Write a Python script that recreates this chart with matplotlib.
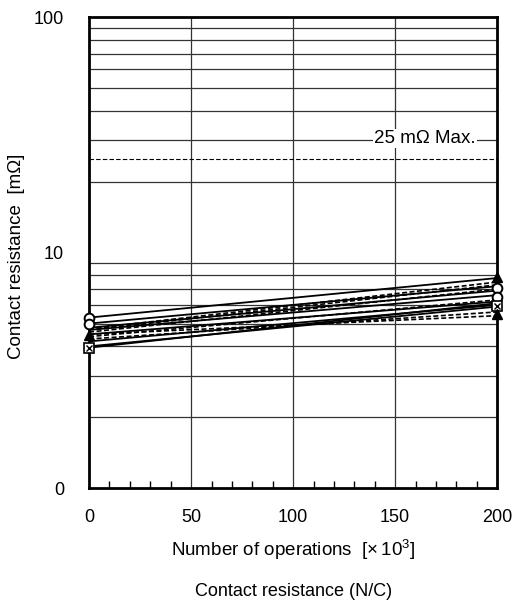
import numpy as np
import matplotlib
matplotlib.use('Agg')
import matplotlib.pyplot as plt
from matplotlib.ticker import FixedLocator, NullFormatter

plt.rcParams['font.family'] = ['Liberation Sans', 'DejaVu Sans']
plt.rcParams['mathtext.fontset'] = 'custom'
plt.rcParams['mathtext.rm'] = 'Liberation Sans'

# data: contact resistance at 0 and 200 x10^3 operations
ops = [0, 200]
solid_start = [5.3, 5.0, 4.8, 4.7, 4.5, 4.2, 4.0, 3.95]
solid_end = [7.8, 7.2, 6.9, 6.6, 6.2, 6.0, 5.9, 6.1]
dash_start = [4.75, 4.7, 4.6, 4.4, 4.3, 4.5]
dash_end = [7.5, 7.3, 7.0, 6.3, 5.6, 5.4]
limit = 25

# markers on the end points (start, end)
start_marks = [(5.3, 'o'), (5.0, 'o'), (4.45, '^'), (3.95, 'sx')]
end_marks = [(7.85, '^'), (7.1, 'o'), (6.45, 'o'), (5.95, 'sx'), (5.5, '^')]

fig = plt.figure(figsize=(5.12, 6.08), dpi=100)
ax = fig.add_axes([0.174, 0.197, 0.797, 0.775])
ax.set_yscale('log')
ax.set_xlim(0, 200)
ax.set_ylim(1, 100)

for a, b in zip(solid_start, solid_end):
    ax.plot(ops, [a, b], color='black', lw=1.3, zorder=3)
for a, b in zip(dash_start, dash_end):
    ax.plot(ops, [a, b], color='black', lw=1.2, ls=(0, (3, 1.5)), zorder=3)

def put_marker(x, y, m):
    if m == 'sx':
        ax.plot([x], [y], marker='s', ms=7, mfc='white', mec='black', mew=1.2, clip_on=False, zorder=5)
        ax.plot([x], [y], marker='x', ms=5, mec='black', mew=1.0, clip_on=False, zorder=6)
    elif m == 'o':
        ax.plot([x], [y], marker='o', ms=7, mfc='white', mec='black', mew=1.4, clip_on=False, zorder=5)
    else:
        ax.plot([x], [y], marker='^', ms=7, mfc='black', mec='black', clip_on=False, zorder=5)

for y, m in start_marks:
    put_marker(ops[0], y, m)
for y, m in end_marks:
    put_marker(ops[1], y, m)

# 25 mOhm limit
ax.axhline(limit, color='black', lw=0.8, ls=(0, (4, 2)), zorder=2)
ax.text(164.5, 30.5, '25 m\u03a9 Max.', fontsize=13.5, ha='center', va='center',
        bbox=dict(facecolor='white', edgecolor='none', pad=1), zorder=4)

# grid
ygrid = [v * d for d in (1, 10) for v in range(2, 10)]
for g in ygrid:
    ax.axhline(g, color='#333333', lw=0.9, zorder=1)
for g in (50, 100, 150):
    ax.axvline(g, color='#333333', lw=0.9, zorder=1)

ax.yaxis.set_major_locator(FixedLocator([1, 10, 100]))
ax.yaxis.set_minor_locator(FixedLocator([]))
ax.yaxis.set_minor_formatter(NullFormatter())
ax.set_yticklabels(['0', '10', '100'])
ax.tick_params(axis='y', length=0, pad=18, labelsize=13)

ax.set_xticks([0, 50, 100, 150, 200])
ax.set_xticks(np.arange(10, 200, 10), minor=True)
ax.tick_params(axis='x', which='major', length=0, pad=15, labelsize=13)
ax.tick_params(axis='x', which='minor', direction='in', length=5, width=1)

for s in ax.spines.values():
    s.set_linewidth(2)

ax.set_xlabel('Number of operations  [$\\times\\,10^3$]', fontsize=13.5, labelpad=8)
fig.text(17 / 512, 1 - 256 / 608, 'Contact resistance  [m\u03a9]', fontsize=13.5,
         rotation=90, ha='center', va='center')
fig.text(0.5 * (0.174 + 0.971), 1 - 592 / 608, 'Contact resistance (N/C)', fontsize=13,
         ha='center', va='center')

fig.savefig('out.png', dpi=100)
